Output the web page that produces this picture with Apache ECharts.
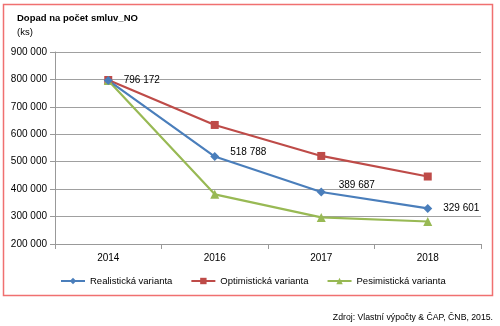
<!DOCTYPE html>
<html><head><meta charset="utf-8">
<script src="https://cdn.jsdelivr.net/npm/echarts@6/dist/echarts.min.js"></script>
<style>html,body{margin:0;padding:0;background:#fff}#c{width:500px;height:326px}</style>
</head><body><div id="c"></div>
<script>
var categories = ['2014', '2016', '2017', '2018'];
var realistic = [796172, 518788, 389687, 329601];
var optimistic = [798000, 634000, 521000, 446000];
var pessimistic = [796172, 381000, 297000, 282000];
var seriesNames = ['Realistická varianta', 'Optimistická varianta', 'Pesimistická varianta'];
var labelOffsets = [[6, 0], [6, -4], [8, -7], [6, 0]];

function fmt(v) { return String(v).replace(/\B(?=(\d{3})+(?!\d))/g, ' '); }
var FONT = 'Liberation Sans';
var chart = echarts.init(document.getElementById('c'));
chart.setOption({
  animation: false,
  textStyle: { fontFamily: FONT },
  graphic: [
    { type: 'rect', shape: { x: 3.5, y: 4.5, width: 489, height: 291 }, style: { fill: 'none', stroke: '#f07070', lineWidth: 1.5 } },
    { type: 'text', left: 17, top: 13, style: { text: 'Dopad na počet smluv_NO', fontFamily: FONT, fontSize: 9.5, fontWeight: 'bold', fill: '#000' } },
    { type: 'text', left: 17, top: 27, style: { text: '(ks)', fontFamily: FONT, fontSize: 9.5, fill: '#000' } },
    { type: 'text', right: 7, top: 313, style: { text: 'Zdroj: Vlastní výpočty & ČAP, ČNB, 2015.', fontFamily: FONT, fontSize: 8.7, fill: '#000' } }
  ],
  grid: { left: 55, right: 19, top: 52, bottom: 82, containLabel: false },
  legend: {
    bottom: 35, itemGap: 18, itemWidth: 24, itemHeight: 8,
    left: 55,
    textStyle: { fontFamily: FONT, fontSize: 9.5, color: '#000' },
    data: seriesNames
  },
  xAxis: {
    type: 'category', data: categories, boundaryGap: true,
    axisLine: { lineStyle: { color: '#999' } },
    axisTick: { show: true, lineStyle: { color: '#999' } },
    axisLabel: { color: '#000', fontSize: 10, margin: 9 }
  },
  yAxis: {
    type: 'value', min: 200000, max: 900000, interval: 100000,
    axisLine: { show: true, lineStyle: { color: '#999' } },
    axisTick: { show: true, lineStyle: { color: '#999' } },
    splitLine: { lineStyle: { color: '#a0a0a0' } },
    axisLabel: { color: '#000', fontSize: 10, formatter: fmt }
  },
  series: [
    { name: seriesNames[1], type: 'line', data: optimistic, symbol: 'rect', symbolSize: 8,
      itemStyle: { color: '#be4b48' }, lineStyle: { width: 2.2, color: '#be4b48' } },
    { name: seriesNames[2], type: 'line', data: pessimistic, symbol: 'triangle', symbolSize: 9,
      itemStyle: { color: '#98b954' }, lineStyle: { width: 2.2, color: '#98b954' } },
    { name: seriesNames[0], type: 'line', data: realistic.map(function (v, i) {
        return { value: v, label: { offset: labelOffsets[i] } };
      }), symbol: 'diamond', symbolSize: 9,
      itemStyle: { color: '#4a7ebb' }, lineStyle: { width: 2.2, color: '#4a7ebb' },
      label: { show: true, position: 'right', color: '#000', fontSize: 10, fontFamily: FONT,
        formatter: function (p) { return fmt(p.value); } } }
  ]
});
</script></body></html>
